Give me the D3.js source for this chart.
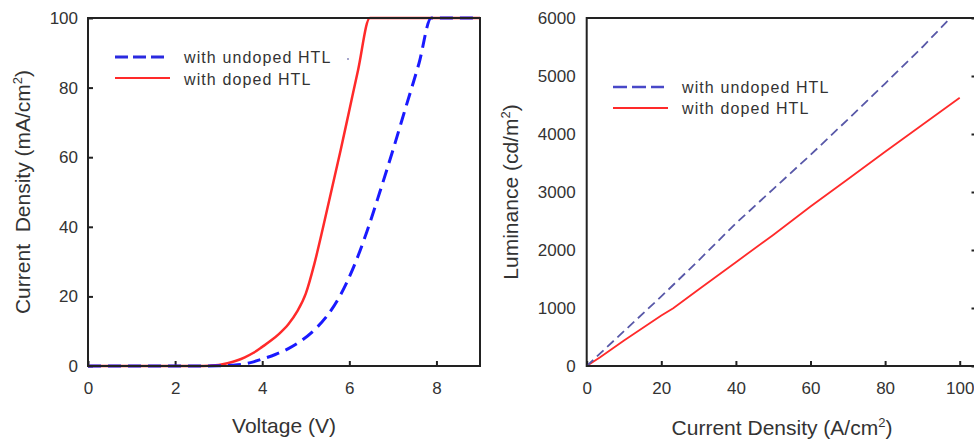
<!DOCTYPE html>
<html><head><meta charset="utf-8">
<script src="https://cdn.jsdelivr.net/npm/d3@7"></script>
<style>
body{margin:0;background:#fff;}
svg{display:block;font-family:"Liberation Sans",Arial,sans-serif;}
text{fill:#333;}
</style></head>
<body>
<svg id="c" width="974" height="442"></svg>
<script>
// ---- Left panel data: J-V ----
const vUndoped = [0, 2.5, 3.0, 3.3, 3.6, 3.8, 4.0, 4.3, 4.6, 4.9, 5.2, 5.5, 5.8, 6.1, 6.4, 6.7, 7.0, 7.3, 7.6, 7.88, 9];
const jUndoped = [0, 0, 0.05, 0.2, 0.6, 1.2, 2.0, 3.3, 5.0, 7.3, 10.4, 14.6, 20.5, 28.5, 38.5, 50, 62, 74.5, 87, 100, 100];
const vDoped = [0, 2.5, 2.8, 3.0, 3.2, 3.4, 3.6, 3.8, 4.0, 4.2, 4.4, 4.6, 4.8, 5.0, 5.2, 5.4, 5.6, 5.8, 6.0, 6.2, 6.47, 9];
const jDoped = [0, 0, 0.1, 0.3, 0.8, 1.5, 2.5, 3.8, 5.5, 7.3, 9.4, 12.0, 15.6, 20.8, 29.5, 40, 51, 62, 73.5, 85, 100, 100];
const leftXTicks = [0, 2, 4, 6, 8];
const leftYTicks = [0, 20, 40, 60, 80, 100];

// ---- Right panel data: L-J ----
const jRightUndoped = [0, 5, 10, 20, 30, 40, 50, 60, 70, 80, 90, 97.5];
const lUndoped = [0, 300, 600, 1200, 1820, 2460, 3050, 3640, 4250, 4870, 5500, 6000];
const jRightDoped = [0, 3.6, 10, 20, 23.2, 30, 40, 50, 60, 70, 80, 90, 100];
const lDoped = [0, 150, 440, 870, 995, 1320, 1790, 2260, 2750, 3220, 3695, 4160, 4626];
const rightXTicks = [0, 20, 40, 60, 80, 100];
const rightYTicks = [0, 1000, 2000, 3000, 4000, 5000, 6000];

const legendLabels = ["with undoped HTL", "with doped HTL"];

const svg = d3.select("#c");
const axisColor = "#222";
const red = "#ff2a2a";

function frame(g, x0, x1, y0, y1) {
  g.append("rect").attr("x", x0).attr("y", y0).attr("width", x1 - x0).attr("height", y1 - y0)
    .attr("fill", "none").attr("stroke", axisColor).attr("stroke-width", 2);
}
function styleAxis(sel) {
  sel.select(".domain").remove();
  sel.selectAll(".tick line").attr("stroke", axisColor).attr("stroke-width", 2);
  sel.selectAll(".tick text").attr("fill", "#333").style("font-size", "17px").style("font-family", '"Liberation Sans",Arial,sans-serif');
}

// ================= LEFT =================
const xL = d3.scaleLinear().domain([0, 9]).range([88, 480]);
const yL = d3.scaleLinear().domain([0, 100]).range([366, 18]);

svg.append("g").attr("transform", "translate(0,366)")
  .call(d3.axisBottom(xL).tickValues(leftXTicks).tickFormat(d3.format("d")).tickSize(-5).tickSizeOuter(0).tickPadding(16))
  .call(styleAxis);
svg.append("g").attr("transform", "translate(88,0)")
  .call(d3.axisLeft(yL).tickValues(leftYTicks).tickFormat(d3.format("d")).tickSize(-5).tickSizeOuter(0).tickPadding(10))
  .call(styleAxis);

const lineL = d3.line().x(d => xL(d[0])).y(d => yL(d[1])).curve(d3.curveMonotoneX);
svg.append("path").datum(vDoped.map((v, i) => [v, jDoped[i]]))
  .attr("d", lineL).attr("fill", "none").attr("stroke", red).attr("stroke-width", 2.5);
svg.append("path").datum(vUndoped.map((v, i) => [v, jUndoped[i]]))
  .attr("d", lineL).attr("fill", "none").attr("stroke", "#1a1aff").attr("stroke-width", 3)
  .attr("stroke-dasharray", "13,7");
frame(svg, 88, 480, 18, 366);

// left legend
svg.append("line").attr("x1", 115).attr("x2", 166).attr("y1", 57).attr("y2", 57)
  .attr("stroke", "#2a2ae0").attr("stroke-width", 3).attr("stroke-dasharray", "13,5");
svg.append("line").attr("x1", 115).attr("x2", 170).attr("y1", 78).attr("y2", 78)
  .attr("stroke", red).attr("stroke-width", 2);
svg.append("text").attr("x", 184).attr("y", 63).text(legendLabels[0]).style("font-size", "16px").style("letter-spacing", "1.1px");
svg.append("text").attr("x", 184).attr("y", 85).text(legendLabels[1]).style("font-size", "16px").style("letter-spacing", "1.1px");
svg.append("circle").attr("cx", 348).attr("cy", 59).attr("r", 1).attr("fill", "#8888bb");

// left titles
svg.append("text").attr("x", (88 + 480) / 2).attr("y", 433).attr("text-anchor", "middle")
  .style("font-size", "21px").text("Voltage (V)");
const ytl = svg.append("text").attr("transform", "translate(30,192) rotate(-90)").attr("text-anchor", "middle")
  .style("font-size", "21px").style("white-space", "pre");
ytl.append("tspan").text("Current  Density (mA/cm");
ytl.append("tspan").attr("dy", -8).style("font-size", "13px").text("2");
ytl.append("tspan").attr("dy", 8).text(")");

// ================= RIGHT =================
const xR = d3.scaleLinear().domain([0, 104.5]).range([586.7, 976.5]);
const yR = d3.scaleLinear().domain([0, 6000]).range([366, 18]);

svg.append("g").attr("transform", "translate(0,366)")
  .call(d3.axisBottom(xR).tickValues(rightXTicks).tickFormat(d3.format("d")).tickSize(-5).tickSizeOuter(0).tickPadding(16))
  .call(styleAxis);
svg.append("g").attr("transform", "translate(586.7,0)")
  .call(d3.axisLeft(yR).tickValues(rightYTicks).tickFormat(d3.format("d")).tickSize(0).tickSizeOuter(0).tickPadding(11))
  .call(styleAxis);
svg.append("g").attr("transform", "translate(976.5,0)")
  .call(d3.axisRight(yR).tickValues(rightYTicks).tickFormat("").tickSize(-5).tickSizeOuter(0))
  .call(styleAxis);

const lineR = d3.line().x(d => xR(d[0])).y(d => yR(d[1]));
svg.append("path").datum(jRightDoped.map((v, i) => [v, lDoped[i]]))
  .attr("d", lineR).attr("fill", "none").attr("stroke", red).attr("stroke-width", 1.8);
svg.append("path").datum(jRightUndoped.map((v, i) => [v, lUndoped[i]]))
  .attr("d", lineR).attr("fill", "none").attr("stroke", "#5858a8").attr("stroke-width", 1.8)
  .attr("stroke-dasharray", "9,5");
frame(svg, 586.7, 976.5, 18, 366);

// right legend
svg.append("line").attr("x1", 613).attr("x2", 664).attr("y1", 87).attr("y2", 87)
  .attr("stroke", "#4848c8").attr("stroke-width", 2.5).attr("stroke-dasharray", "14,5");
svg.append("line").attr("x1", 613).attr("x2", 668).attr("y1", 108).attr("y2", 108)
  .attr("stroke", red).attr("stroke-width", 2);
svg.append("text").attr("x", 682).attr("y", 93).text(legendLabels[0]).style("font-size", "16px").style("letter-spacing", "1.1px");
svg.append("text").attr("x", 682).attr("y", 114).text(legendLabels[1]).style("font-size", "16px").style("letter-spacing", "1.1px");

// right titles
const xtr = svg.append("text").attr("x", 782).attr("y", 435).attr("text-anchor", "middle").style("font-size", "21px");
xtr.append("tspan").text("Current Density (A/cm");
xtr.append("tspan").attr("dy", -8).style("font-size", "13px").text("2");
xtr.append("tspan").attr("dy", 8).text(")");
const ytr = svg.append("text").attr("transform", "translate(518,192) rotate(-90)").attr("text-anchor", "middle").style("font-size", "21px");
ytr.append("tspan").text("Luminance (cd/m");
ytr.append("tspan").attr("dy", -8).style("font-size", "13px").text("2");
ytr.append("tspan").attr("dy", 8).text(")");
</script>
</body></html>
